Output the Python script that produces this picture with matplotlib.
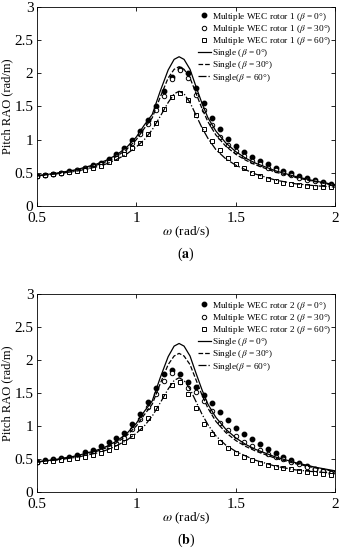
import matplotlib
matplotlib.use("Agg")
from matplotlib import pyplot as plt

plt.rcParams['font.family'] = ['Liberation Serif', 'DejaVu Serif']
plt.rcParams['mathtext.fontset'] = 'stix'

# frequencies of the marker points (rad/s)
w_pts = [0.50, 0.54, 0.58, 0.62, 0.66, 0.70, 0.74, 0.78, 0.82, 0.86,
         0.90, 0.94, 0.98, 1.02, 1.06, 1.10, 1.14, 1.18, 1.22, 1.26,
         1.30, 1.34, 1.38, 1.42, 1.46, 1.50, 1.54, 1.58, 1.62, 1.66,
         1.70, 1.74, 1.78, 1.82, 1.86, 1.90, 1.94, 1.98]

# (a) rotor 1
r1_b0 = [0.457, 0.468, 0.488, 0.503, 0.523, 0.548, 0.578, 0.613, 0.653, 0.709,
         0.779, 0.875, 0.990, 1.136, 1.297, 1.508, 1.735, 1.950, 2.070, 2.000,
         1.775, 1.549, 1.332, 1.157, 1.015, 0.905, 0.819, 0.744, 0.683, 0.633,
         0.578, 0.532, 0.493, 0.452, 0.422, 0.392, 0.362, 0.332]
r1_b30 = [0.455, 0.465, 0.483, 0.497, 0.515, 0.538, 0.565, 0.597, 0.635, 0.685,
          0.750, 0.840, 0.950, 1.090, 1.240, 1.440, 1.660, 1.920, 2.050, 1.930,
          1.680, 1.440, 1.220, 1.045, 0.920, 0.830, 0.750, 0.685, 0.630, 0.580,
          0.535, 0.495, 0.460, 0.425, 0.395, 0.370, 0.345, 0.320]
r1_b60 = [0.455, 0.463, 0.478, 0.490, 0.505, 0.523, 0.545, 0.572, 0.605, 0.660,
          0.720, 0.790, 0.870, 0.950, 1.080, 1.250, 1.460, 1.640, 1.700, 1.600,
          1.370, 1.160, 0.980, 0.850, 0.720, 0.635, 0.565, 0.500, 0.450, 0.405,
          0.370, 0.345, 0.325, 0.310, 0.300, 0.290, 0.285, 0.280]

# (b) rotor 2
r2_b0 = [0.460, 0.480, 0.500, 0.515, 0.535, 0.565, 0.606, 0.640, 0.697, 0.753,
         0.823, 0.889, 1.025, 1.177, 1.359, 1.580, 1.780, 1.850, 1.790, 1.660,
         1.590, 1.470, 1.344, 1.210, 1.086, 0.975, 0.884, 0.803, 0.722, 0.657,
         0.596, 0.535, 0.485, 0.434, 0.394, 0.353, 0.318, 0.293]
r2_b30 = [0.455, 0.465, 0.480, 0.495, 0.510, 0.530, 0.555, 0.590, 0.625, 0.675,
          0.740, 0.820, 0.950, 1.100, 1.280, 1.480, 1.680, 1.800, 1.670, 1.570,
          1.520, 1.380, 1.220, 1.050, 0.940, 0.850, 0.760, 0.700, 0.640, 0.580,
          0.535, 0.495, 0.455, 0.420, 0.385, 0.350, 0.320, 0.285]
r2_b60 = [0.455, 0.463, 0.475, 0.488, 0.500, 0.515, 0.535, 0.560, 0.590, 0.630,
          0.685, 0.750, 0.850, 0.965, 1.120, 1.270, 1.460, 1.620, 1.670, 1.480,
          1.270, 1.030, 0.880, 0.750, 0.660, 0.585, 0.535, 0.485, 0.445, 0.410,
          0.385, 0.365, 0.345, 0.325, 0.305, 0.285, 0.270, 0.255]

# single WEC curves
w_line = [0.50, 0.60, 0.70, 0.80, 0.85, 0.90, 0.95, 1.00, 1.04, 1.08,
          1.12, 1.16, 1.19, 1.215, 1.24, 1.27, 1.30, 1.33, 1.36, 1.40,
          1.45, 1.50, 1.55, 1.60, 1.70, 1.80, 1.90, 2.00]
single_b0 = [0.455, 0.495, 0.548, 0.632, 0.690, 0.770, 0.880, 1.040, 1.220, 1.380,
             1.730, 2.050, 2.210, 2.250, 2.210, 2.060, 1.800, 1.550, 1.330, 1.130,
             0.950, 0.820, 0.720, 0.645, 0.530, 0.445, 0.375, 0.320]
single_b30 = [0.455, 0.490, 0.540, 0.615, 0.670, 0.745, 0.850, 1.000, 1.170, 1.330,
              1.640, 1.930, 2.060, 2.100, 2.060, 1.930, 1.700, 1.470, 1.270, 1.070,
              0.900, 0.780, 0.690, 0.620, 0.510, 0.430, 0.365, 0.310]
single_b60 = [0.455, 0.485, 0.525, 0.590, 0.635, 0.700, 0.780, 0.890, 1.000, 1.150,
              1.350, 1.560, 1.690, 1.730, 1.690, 1.560, 1.370, 1.180, 1.020, 0.850,
              0.710, 0.615, 0.545, 0.480, 0.390, 0.335, 0.305, 0.285]

x_ticks = [0.5, 1, 1.5, 2]
x_ticklabels = ["0.5", "1", "1.5", "2"]
y_ticks = [0, 0.5, 1, 1.5, 2, 2.5, 3]
y_ticklabels = ["0", "0.5", "1", "1.5", "2", "2.5", "3"]

fig = plt.figure(figsize=(3.42, 5.5), dpi=100)
ax1 = fig.add_axes([0.108, 0.6255, 0.872, 0.3618])
ax2 = fig.add_axes([0.108, 0.1055, 0.872, 0.360])


def draw(ax, rotor, m0, m30, m60, caption, leg_y):
    ax.plot(w_pts, m0, linestyle="none", marker="o", ms=3.2, mfc="k", mec="k",
            label=r"Multiple WEC rotor %d ($\beta$ = 0°)" % rotor)
    ax.plot(w_pts, m30, linestyle="none", marker="o", ms=3.2, mfc="white", mec="k",
            mew=0.7, label=r"Multiple WEC rotor %d ($\beta$ = 30°)" % rotor)
    ax.plot(w_pts, m60, linestyle="none", marker="s", ms=3.0, mfc="white", mec="k",
            mew=0.7, label=r"Multiple WEC rotor %d ($\beta$ = 60°)" % rotor)
    ax.plot(w_line, single_b0, "k-", lw=0.9, label=r"Single ($\beta$ = 0°)")
    ax.plot(w_line, single_b30, "k--", lw=0.9, label=r"Single ($\beta$ = 30°)")
    ax.plot(w_line, single_b60, "k-.", lw=0.9, label=r"Single($\beta$ = 60°)")

    ax.set_xlim(0.5, 2)
    ax.set_ylim(0, 3)
    ax.set_xticks(x_ticks)
    ax.set_xticklabels(x_ticklabels)
    ax.set_yticks(y_ticks)
    ax.set_yticklabels(y_ticklabels)
    ax.tick_params(direction="in", top=True, right=True, labelsize=11,
                   length=3, width=0.6, pad=2.5)
    ax.tick_params(axis="x", pad=4)
    for s in ax.spines.values():
        s.set_linewidth(0.6)
    ax.set_xlabel(r"$\omega$ (rad/s)", fontsize=9.5, labelpad=0)
    ax.set_ylabel("Pitch RAO (rad/m)", fontsize=9)
    ax.yaxis.set_label_coords(-0.08, 0.5)
    ax.legend(loc="upper right", bbox_to_anchor=(1.0, leg_y), frameon=False,
              fontsize=6.7, labelspacing=0.02, handlelength=1.45,
              handletextpad=0.1, borderaxespad=0.3, borderpad=0.1)
    ax.text(0.5, -0.245, caption, transform=ax.transAxes, ha="center", va="center",
            fontsize=10)


draw(ax1, 1, r1_b0, r1_b30, r1_b60, r"($\mathbf{a}$)", 1.0)
draw(ax2, 2, r2_b0, r2_b30, r2_b60, r"($\mathbf{b}$)", 0.99)

fig.savefig("out.png", dpi=100)
